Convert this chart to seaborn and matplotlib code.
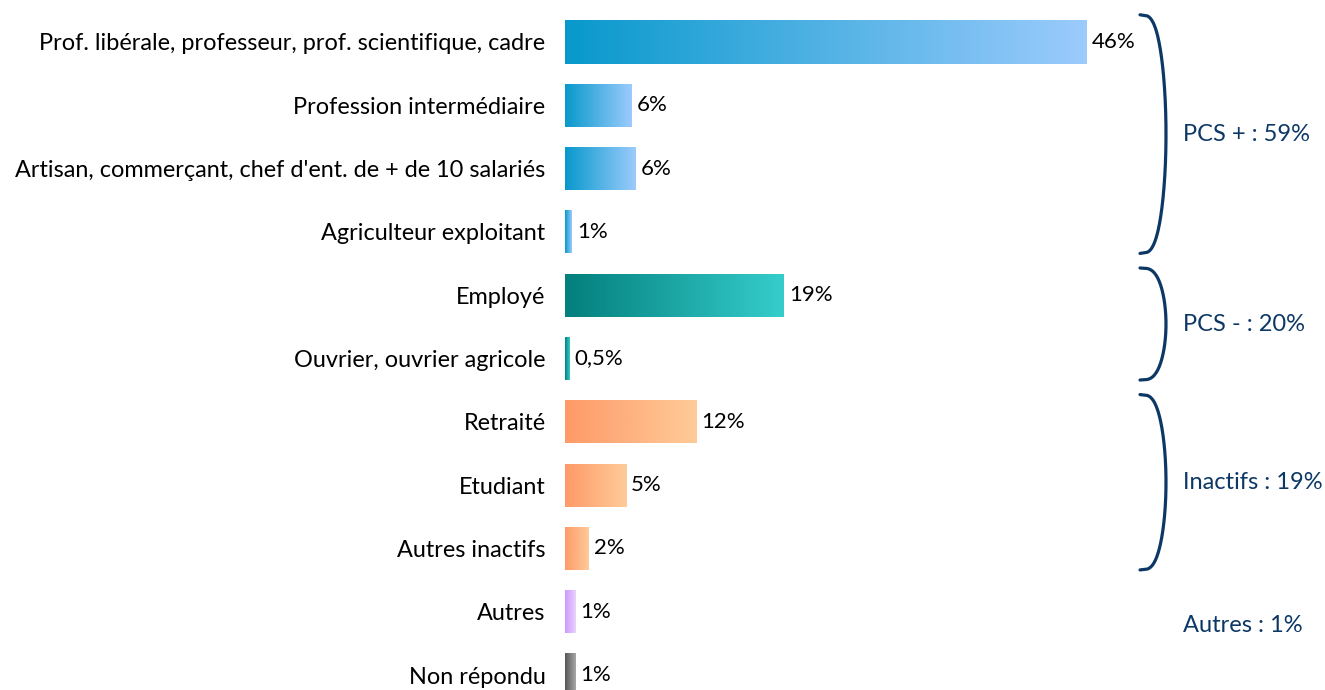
import numpy as np
import pandas as pd
import seaborn as sns
import matplotlib.pyplot as plt
from matplotlib.colors import LinearSegmentedColormap

# --- data ---
categories = [
    "Prof. libérale, professeur, prof. scientifique, cadre",
    "Profession intermédiaire",
    "Artisan, commerçant, chef d'ent. de + de 10 salariés",
    "Agriculteur exploitant",
    "Employé",
    "Ouvrier, ouvrier agricole",
    "Retraité",
    "Etudiant",
    "Autres inactifs",
    "Autres",
    "Non répondu",
]
values = [46.0, 5.9, 6.2, 0.6, 19.3, 0.4, 11.6, 5.4, 2.1, 0.9, 0.9]
value_labels = ["46%", "6%", "6%", "1%", "19%", "0,5%", "12%", "5%", "2%", "1%", "1%"]
bar_group = ["blue", "blue", "blue", "blue", "teal", "teal",
             "orange", "orange", "orange", "purple", "gray"]

group_names = ["PCS + : 59%", "PCS - : 20%", "Inactifs : 19%", "Autres : 1%"]
group_rows = [(0, 3), (4, 5), (6, 8), (9, 9)]
group_brace = [True, True, True, False]

gradients = {
    "blue": ("#0899cc", "#9ccbfd"),
    "teal": ("#037f7d", "#35cdcb"),
    "orange": ("#fe9a68", "#fecb99"),
    "purple": ("#cc99ff", "#ead4ff"),
    "gray": ("#575757", "#a8a8a8"),
}
navy = "#0d3866"

df = pd.DataFrame({"cat": categories, "val": values})

sns.set_style("white")
plt.rcParams["font.family"] = ["Lato", "DejaVu Sans"]

fig = plt.figure(figsize=(13.25, 6.9), dpi=100)
ax = fig.add_axes([565 / 1325, 0, 1 - 565 / 1325, 1])

sns.barplot(data=df, x="val", y="cat", orient="h", ax=ax, width=0.68,
            color="white", linewidth=0)

px_per_unit = 11.33
xmax = (1325 - 565) / px_per_unit
row_px = 63.3

# gradient fill clipped to each bar
grad = np.linspace(0, 1, 256).reshape(1, -1)
for patch, grp in zip(ax.patches, bar_group):
    x0, y0 = patch.get_x(), patch.get_y()
    w, h = patch.get_width(), patch.get_height()
    cmap = LinearSegmentedColormap.from_list(grp, gradients[grp])
    im = ax.imshow(grad, cmap=cmap, aspect="auto",
                   extent=[x0, x0 + w, y0 + h, y0], zorder=2)
    im.set_clip_path(patch)

ax.set_xlim(0, xmax)
ax.set_ylim((690 - 42) / row_px, -42 / row_px)

# value labels
for i, (v, lab) in enumerate(zip(values, value_labels)):
    ax.text(v + 0.45, i, lab, va="center", ha="left", fontsize=16, color="black")

# category labels
ax.set_yticks(range(len(categories)))
ax.set_yticklabels(categories, fontsize=16.9, color="black")
ax.tick_params(axis="y", length=0, pad=14)
ax.set_xticks([])
ax.set_xlabel("")
ax.set_ylabel("")
sns.despine(ax=ax, left=True, bottom=True)

# braces and group labels
brace_x = (1140 - 565) / px_per_unit
brace_w = (1166 - 1140) / px_per_unit
label_x = (1183 - 565) / px_per_unit
t = np.linspace(0, 1, 200)
for name, (r0, r1), has_brace in zip(group_names, group_rows, group_brace):
    top, bot = r0 - 0.43, r1 + 0.34
    if has_brace:
        ys = top + (bot - top) * t
        xs = brace_x + brace_w * np.sin(np.pi * t) ** 0.3
        ax.plot(xs, ys, color=navy, lw=2.3, solid_capstyle="round", clip_on=False)
    ax.text(label_x, (top + bot) / 2 if has_brace else r0 + 0.22, name,
            va="center", ha="left", fontsize=17, color=navy)

fig.savefig("out.png", dpi=100)
